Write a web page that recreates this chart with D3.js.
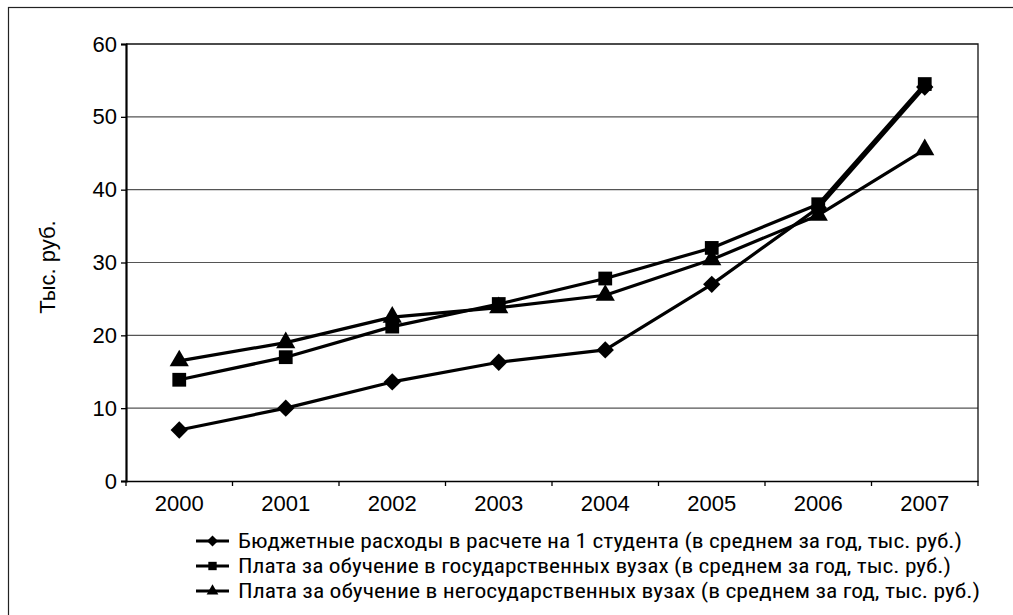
<!DOCTYPE html>
<html><head><meta charset="utf-8">
<script src="https://cdn.jsdelivr.net/npm/d3@7"></script>
<style>body{margin:0;background:#fff}svg{display:block}
.lab{font-family:"Liberation Sans","Arimo","Helvetica","Arial",sans-serif;font-size:22px}
.leg{font-family:"Liberation Sans Narrow","Roboto Condensed","Liberation Sans",sans-serif;font-size:20px}
</style>
</head><body>
<script>
const categories = ["2000","2001","2002","2003","2004","2005","2006","2007"];
const budget = [7.0, 10.0, 13.6, 16.3, 18.0, 27.0, 37.5, 54.1];
const stateFee = [13.9, 17.0, 21.2, 24.3, 27.8, 32.0, 38.0, 54.5];
const privateFee = [16.5, 19.0, 22.5, 23.8, 25.5, 30.4, 36.5, 45.5];
const yTicks = [0, 10, 20, 30, 40, 50, 60];
const seriesNames = [
  "Бюджетные расходы в расчете на 1 студента (в среднем за год, тыс. руб.)",
  "Плата за обучение в государственных вузах (в среднем за год, тыс. руб.)",
  "Плата за обучение в негосударственных вузах (в среднем за год, тыс. руб.)"
];
const yLabel = "Тыс. руб.";

const W = 1013, H = 615;
const svg = d3.select("body").append("svg").attr("width", W).attr("height", H);
svg.append("rect").attr("x", 8.5).attr("y", 7.5).attr("width", W + 10).attr("height", H + 10)
  .attr("fill", "none").attr("stroke", "#222").attr("stroke-width", 1.2);

const L = 126, R = 978, T = 44, B = 481;
const x = d3.scaleBand().domain(categories).range([L, R]);
const y = d3.scaleLinear().domain([0, 60]).range([B, T]);

svg.append("g").selectAll("line").data(yTicks.filter(d => d > 0 && d < 60)).join("line")
  .attr("x1", L).attr("x2", R).attr("y1", d => y(d)).attr("y2", d => y(d))
  .attr("stroke", "#555").attr("stroke-width", 1.2);
svg.append("path").attr("d", `M${L},${y(60)}H${R}V${B}`).attr("fill", "none")
  .attr("stroke", "#111").attr("stroke-width", 1.3);

const yAxis = svg.append("g").attr("transform", `translate(${L},0)`)
  .call(d3.axisLeft(y).tickValues(yTicks).tickSize(5).tickPadding(4));
yAxis.select(".domain").attr("stroke", "#000").attr("stroke-width", 2.2);
yAxis.selectAll(".tick line").attr("stroke", "#000").attr("stroke-width", 1.3);
yAxis.attr("font-family", null).attr("font-size", null);
yAxis.selectAll("text").attr("class", "lab").attr("fill", "#000");

const xAxis = svg.append("g").attr("transform", `translate(0,${B})`)
  .call(d3.axisBottom(x).tickSize(0).tickPadding(14));
xAxis.select(".domain").attr("stroke", "#000").attr("stroke-width", 1.6);
xAxis.attr("font-family", null).attr("font-size", null);
xAxis.selectAll("text").attr("class", "lab").attr("fill", "#000");
const bounds = categories.map(c => x(c)).concat([R]);
svg.append("g").selectAll("line").data(bounds).join("line")
  .attr("x1", d => d).attr("x2", d => d).attr("y1", B).attr("y2", B + 5)
  .attr("stroke", "#000").attr("stroke-width", 1.3);

svg.append("text").attr("class", "lab").attr("transform", `translate(55,267) rotate(-90)`)
  .attr("text-anchor", "middle").text(yLabel);

const symShapes = [
  d3.symbol().type(d3.symbolSquare).size(150)(),
  d3.symbol().type(d3.symbolSquare).size(190)(),
  d3.symbol().type(d3.symbolTriangle).size(160)()
];
const rot = ["rotate(45)", "", ""];
const data = [budget, stateFee, privateFee];
const cx = c => x(c) + x.bandwidth() / 2;
const line = d3.line().x((d, i) => cx(categories[i])).y(d => y(d));

data.forEach((vals, si) => {
  const g = svg.append("g");
  g.append("path").attr("d", line(vals)).attr("fill", "none")
    .attr("stroke", "#000").attr("stroke-width", 3.2).attr("stroke-linejoin", "round");
  g.selectAll("path.m").data(vals).join("path").attr("class", "m")
    .attr("transform", (d, i) => `translate(${cx(categories[i])},${y(d)}) ${rot[si]}`)
    .attr("d", symShapes[si]).attr("fill", "#000");
});

const legY = [541, 566, 591];
const legW = [724, 713, 742];
const legSym = [
  d3.symbol().type(d3.symbolSquare).size(60)(),
  d3.symbol().type(d3.symbolSquare).size(70)(),
  d3.symbol().type(d3.symbolTriangle).size(60)()
];
seriesNames.forEach((name, i) => {
  const g = svg.append("g");
  g.append("line").attr("x1", 196).attr("x2", 229).attr("y1", legY[i]).attr("y2", legY[i])
    .attr("stroke", "#000").attr("stroke-width", 3);
  g.append("path").attr("transform", `translate(212.5,${legY[i]}) ${rot[i]}`).attr("d", legSym[i]).attr("fill", "#000");
  g.append("text").attr("class", "leg").attr("x", 238).attr("y", legY[i]).attr("dy", "0.35em")
    .attr("textLength", legW[i]).attr("lengthAdjust", "spacingAndGlyphs").text(name);
});
</script>
</body></html>
